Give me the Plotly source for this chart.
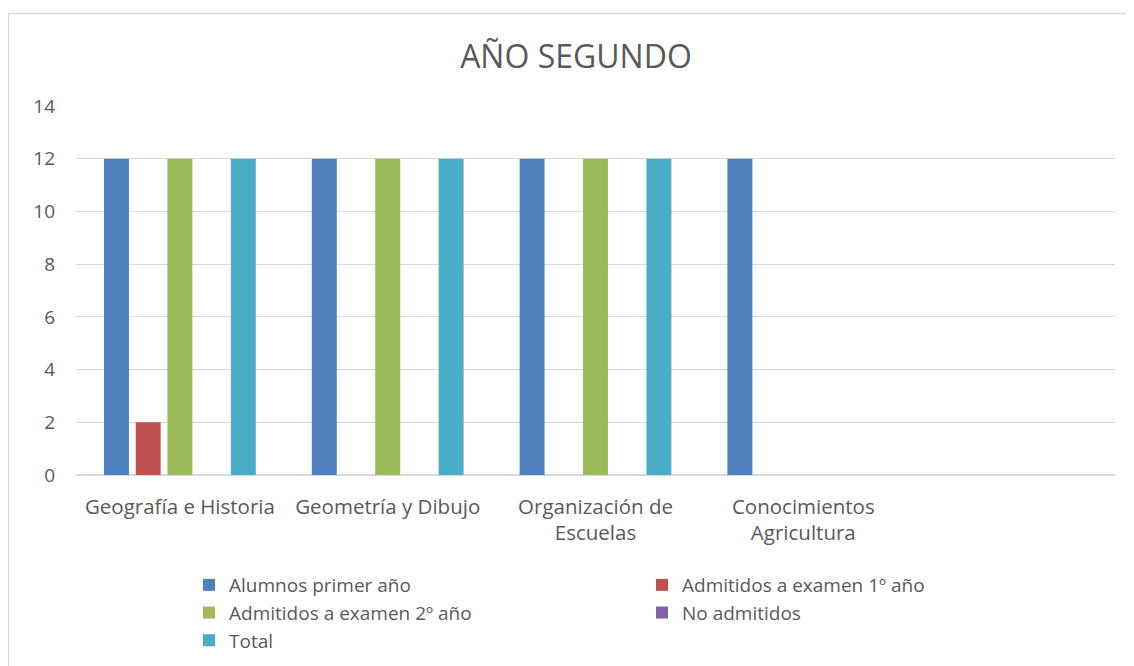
import plotly.graph_objects as go

# Categories (last one is an empty slot in the original chart)
categories = [
    "Geografía e Historia",
    "Geometría y Dibujo",
    "Organización de<br>Escuelas",
    "Conocimientos<br>Agricultura",
    " ",
]

alumnos_primer = [12, 12, 12, 12, 0]
admitidos_1 = [2, 0, 0, 0, 0]
admitidos_2 = [12, 12, 12, 0, 0]
no_admitidos = [0, 0, 0, 0, 0]
total = [12, 12, 12, 0, 0]

series = [
    ("Alumnos primer año", alumnos_primer, "#4f81bd"),
    ("Admitidos a examen 1º año", admitidos_1, "#c0504d"),
    ("Admitidos a examen 2º año", admitidos_2, "#9bbb59"),
    ("No admitidos", no_admitidos, "#8064a2"),
    ("Total", total, "#4bacc6"),
]

FONT = "Open Sans, Liberation Sans, sans-serif"
TEXT = "#595959"

# page body has an 8px margin, so the figure is drawn 8px smaller
W, H = 1126, 658

fig = go.Figure()
for name, vals, color in series:
    fig.add_trace(go.Bar(name=name, x=categories, y=vals, marker_color=color,
                         marker_line_width=0))

# light outer border of the chart object
fig.add_shape(type="rect", xref="paper", yref="paper",
              x0=-0.065, x1=1.03, y0=-0.53, y1=1.2507,
              line=dict(color="#d9d9d9", width=1.5), fillcolor="rgba(0,0,0,0)",
              layer="below")

fig.update_layout(
    width=W, height=H,
    margin=dict(l=68, r=19, t=98, b=191),
    paper_bgcolor="white", plot_bgcolor="white",
    font=dict(family=FONT, color=TEXT, size=19),
    title=dict(text="AÑO SEGUNDO", x=0.5044, xanchor="center",
               y=1 - 49 / H, yanchor="middle",
               font=dict(size=32, color=TEXT, family=FONT)),
    barmode="group", bargap=0.237, bargroupgap=0.213,
    showlegend=True,
    legend=dict(orientation="h", xref="container", yref="container",
                x=181 / W, y=1 - 558 / H, xanchor="left", yanchor="top",
                entrywidth=408, font=dict(size=19, color=TEXT),
                traceorder="normal", itemclick=False),
)
fig.update_xaxes(showgrid=False, showline=False, ticks="",
                 tickfont=dict(size=20.5, color=TEXT), ticklabelstandoff=17)
fig.update_yaxes(range=[0, 14], dtick=2, showgrid=True, gridcolor="#d9d9d9",
                 gridwidth=1, zeroline=True, zerolinecolor="#d9d9d9", zerolinewidth=1.5,
                 showline=False, tickfont=dict(size=19, color=TEXT), ticklabelstandoff=20)

fig.write_html("out.html")
